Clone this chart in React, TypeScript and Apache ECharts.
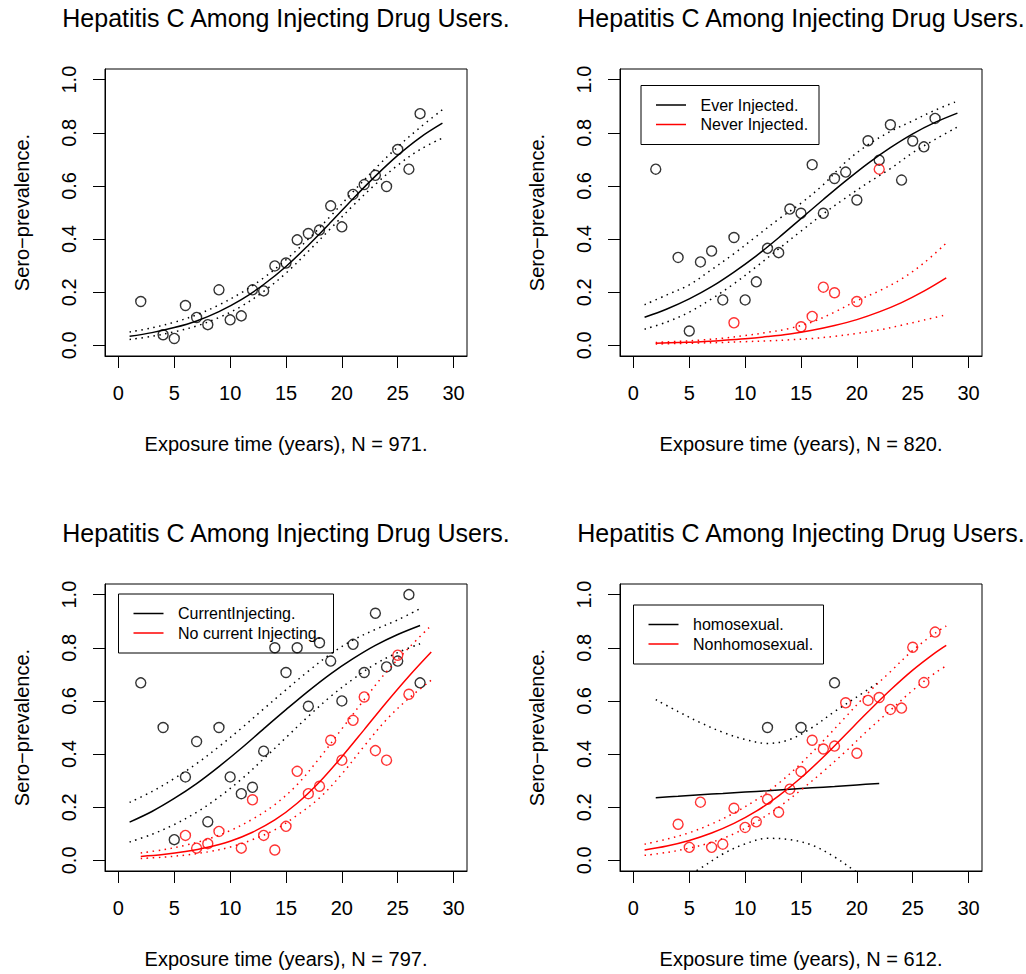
import { useEffect, useRef } from "react";
import * as echarts from "echarts";

// ---------- tick labels ----------
const xTicks = [0, 5, 10, 15, 20, 25, 30];
const yTicks = [0, 0.2, 0.4, 0.6, 0.8, 1.0];

// ---------- titles / labels ----------
const mainTitle = "Hepatitis C Among Injecting Drug Users.";
const yTitle = "Sero\u2212prevalence.";
const sampleSizes = ["971", "820", "797", "612"];

// ---------- x grids for fitted curves ----------
const oddYears = [1, 3, 5, 7, 9, 11, 13, 15, 17, 19, 21, 23, 25, 27, 29];
const oddYears27 = [1, 3, 5, 7, 9, 11, 13, 15, 17, 19, 21, 23, 25, 27];
const oddYears28 = [1, 3, 5, 7, 9, 11, 13, 15, 17, 19, 21, 23, 25, 27, 28];
const evenYears28 = [2, 4, 6, 8, 10, 12, 14, 16, 18, 20, 22, 24, 26, 28];
const evenYears22 = [2, 4, 6, 8, 10, 12, 14, 16, 18, 20, 22];

// ---------- panel 1 : all ----------
const p1X = [2, 4, 5, 6, 7, 8, 9, 10, 11, 12, 13, 14, 15, 16, 17, 18, 19, 20, 21, 22, 23, 24, 25, 26, 27];
const p1Y = [0.165, 0.04, 0.026, 0.15, 0.105, 0.078, 0.209, 0.096, 0.111, 0.209, 0.205, 0.299, 0.31, 0.397, 0.421, 0.434, 0.525, 0.446, 0.568, 0.605, 0.64, 0.598, 0.737, 0.663, 0.872];
const p1Fit = [0.034, 0.048, 0.067, 0.092, 0.127, 0.172, 0.229, 0.297, 0.377, 0.463, 0.552, 0.637, 0.715, 0.782, 0.836];
const p1Upper = [0.05, 0.066, 0.087, 0.115, 0.152, 0.198, 0.254, 0.322, 0.4, 0.487, 0.578, 0.666, 0.747, 0.82, 0.887];
const p1Lower = [0.022, 0.034, 0.051, 0.073, 0.105, 0.147, 0.203, 0.272, 0.354, 0.44, 0.526, 0.606, 0.678, 0.737, 0.78];

// ---------- panel 2 : ever / never injected ----------
const p2EverX = [2, 4, 5, 6, 7, 8, 9, 10, 11, 12, 13, 14, 15, 16, 17, 18, 19, 20, 21, 22, 23, 24, 25, 26, 27];
const p2EverY = [0.663, 0.331, 0.054, 0.314, 0.355, 0.171, 0.406, 0.171, 0.239, 0.365, 0.349, 0.513, 0.497, 0.68, 0.497, 0.628, 0.652, 0.547, 0.77, 0.697, 0.83, 0.622, 0.769, 0.747, 0.854];
const p2NeverX = [9, 15, 16, 17, 18, 20, 22];
const p2NeverY = [0.085, 0.07, 0.109, 0.219, 0.198, 0.165, 0.663];
const p2EverFit = [0.106, 0.137, 0.175, 0.221, 0.276, 0.337, 0.405, 0.477, 0.549, 0.619, 0.685, 0.744, 0.796, 0.839, 0.874];
const p2EverUpper = [0.153, 0.19, 0.228, 0.285, 0.345, 0.41, 0.475, 0.535, 0.605, 0.69, 0.755, 0.805, 0.845, 0.885, 0.919];
const p2EverLower = [0.061, 0.088, 0.125, 0.175, 0.232, 0.296, 0.363, 0.43, 0.495, 0.555, 0.612, 0.665, 0.725, 0.775, 0.822];
const p2NeverFit = [0.008, 0.011, 0.014, 0.019, 0.025, 0.033, 0.043, 0.057, 0.075, 0.097, 0.126, 0.161, 0.204, 0.254];
const p2NeverUpper = [0.011, 0.015, 0.02, 0.027, 0.037, 0.049, 0.064, 0.088, 0.125, 0.168, 0.205, 0.25, 0.31, 0.385];
const p2NeverLower = [0.005, 0.007, 0.009, 0.011, 0.014, 0.017, 0.021, 0.026, 0.034, 0.045, 0.058, 0.076, 0.095, 0.115];

// ---------- panel 3 : current / no current injecting ----------
const p3CurX = [2, 4, 5, 6, 7, 8, 9, 10, 11, 12, 13, 14, 15, 16, 17, 18, 19, 20, 21, 22, 23, 24, 25, 26, 27];
const p3CurY = [0.668, 0.5, 0.078, 0.314, 0.447, 0.145, 0.5, 0.314, 0.251, 0.275, 0.411, 0.8, 0.707, 0.8, 0.58, 0.819, 0.75, 0.6, 0.813, 0.707, 0.93, 0.728, 0.75, 1.0, 0.668];
const p3NoX = [6, 7, 8, 9, 11, 12, 13, 14, 15, 16, 17, 18, 19, 20, 21, 22, 23, 24, 25, 26];
const p3NoY = [0.094, 0.046, 0.063, 0.109, 0.046, 0.228, 0.094, 0.039, 0.128, 0.335, 0.251, 0.279, 0.452, 0.377, 0.527, 0.615, 0.413, 0.377, 0.772, 0.625];
const p3CurFit = [0.144, 0.184, 0.233, 0.289, 0.353, 0.422, 0.495, 0.567, 0.637, 0.702, 0.759, 0.809, 0.85, 0.884];
const p3CurUpper = [0.218, 0.259, 0.308, 0.364, 0.428, 0.497, 0.57, 0.642, 0.712, 0.777, 0.829, 0.869, 0.905, 0.947];
const p3CurLower = [0.069, 0.098, 0.135, 0.181, 0.238, 0.305, 0.382, 0.462, 0.542, 0.617, 0.682, 0.739, 0.782, 0.815];
const p3NoFit = [0.015, 0.022, 0.033, 0.049, 0.072, 0.106, 0.152, 0.215, 0.295, 0.39, 0.492, 0.595, 0.693, 0.784];
const p3NoUpper = [0.028, 0.04, 0.057, 0.08, 0.112, 0.155, 0.21, 0.285, 0.385, 0.495, 0.605, 0.71, 0.8, 0.884];
const p3NoLower = [0.007, 0.012, 0.02, 0.032, 0.05, 0.078, 0.115, 0.17, 0.235, 0.325, 0.43, 0.53, 0.61, 0.678];

// ---------- panel 4 : homosexual / nonhomosexual ----------
const p4HomoX = [12, 15, 18];
const p4HomoY = [0.5, 0.5, 0.668];
const p4NonX = [4, 5, 6, 7, 8, 9, 10, 11, 12, 13, 14, 15, 16, 17, 18, 19, 20, 21, 22, 23, 24, 25, 26, 27];
const p4NonY = [0.136, 0.049, 0.219, 0.049, 0.061, 0.196, 0.124, 0.145, 0.23, 0.181, 0.268, 0.334, 0.452, 0.419, 0.43, 0.593, 0.403, 0.602, 0.613, 0.568, 0.573, 0.802, 0.669, 0.859];
const p4HomoFit = [0.236, 0.241, 0.247, 0.252, 0.257, 0.262, 0.268, 0.273, 0.278, 0.284, 0.289];
const p4HomoUpper = [0.605, 0.56, 0.518, 0.482, 0.455, 0.44, 0.455, 0.5, 0.56, 0.615, 0.672];
const p4HomoLower = [-0.133, -0.078, -0.03, 0.024, 0.062, 0.083, 0.078, 0.057, 0.013, -0.045, -0.1];
const p4NonFit = [0.039, 0.054, 0.075, 0.103, 0.139, 0.185, 0.243, 0.311, 0.389, 0.474, 0.559, 0.641, 0.716, 0.781, 0.809];
const p4NonUpper = [0.061, 0.08, 0.104, 0.137, 0.178, 0.228, 0.29, 0.365, 0.45, 0.54, 0.63, 0.71, 0.79, 0.855, 0.882];
const p4NonLower = [0.019, 0.03, 0.046, 0.068, 0.1, 0.145, 0.2, 0.265, 0.335, 0.41, 0.49, 0.565, 0.64, 0.705, 0.732];

// ---------- legend labels ----------
const legend2 = ["Ever Injected.", "Never Injected."];
const legend3 = ["CurrentInjecting.", "No current Injecting."];
const legend4 = ["homosexual.", "Nonhomosexual."];

const BLACK = "#000000";
const RED = "#ff0000";
const FONT = '"Liberation Sans", Arial, Helvetica, sans-serif';

const zip = (xs: number[], ys: number[]) => xs.map((x, i) => [x, ys[i]]);

type Group = { px: number[]; py: number[]; fx: number[]; fit: number[]; up: number[]; lo: number[]; color: string; name: string };

const panels: { dx: number; dy: number; groups: Group[]; legend: string[] | null; lg: { x: number; y: number; w: number; h: number } | null }[] = [
  {
    dx: 0, dy: 0, legend: null, lg: null,
    groups: [{ px: p1X, py: p1Y, fx: oddYears, fit: p1Fit, up: p1Upper, lo: p1Lower, color: BLACK, name: "All" }],
  },
  {
    dx: 515, dy: 0, legend: legend2, lg: { x: 641, y: 85.5, w: 178, h: 59 },
    groups: [
      { px: p2EverX, py: p2EverY, fx: oddYears, fit: p2EverFit, up: p2EverUpper, lo: p2EverLower, color: BLACK, name: legend2[0] },
      { px: p2NeverX, py: p2NeverY, fx: evenYears28, fit: p2NeverFit, up: p2NeverUpper, lo: p2NeverLower, color: RED, name: legend2[1] },
    ],
  },
  {
    dx: 0, dy: 515, legend: legend3, lg: { x: 118.5, y: 594, w: 215, h: 59 },
    groups: [
      { px: p3CurX, py: p3CurY, fx: oddYears27, fit: p3CurFit, up: p3CurUpper, lo: p3CurLower, color: BLACK, name: legend3[0] },
      { px: p3NoX, py: p3NoY, fx: evenYears28, fit: p3NoFit, up: p3NoUpper, lo: p3NoLower, color: RED, name: legend3[1] },
    ],
  },
  {
    dx: 515, dy: 515, legend: legend4, lg: { x: 633.5, y: 605, w: 190, h: 59 },
    groups: [
      { px: p4HomoX, py: p4HomoY, fx: evenYears22, fit: p4HomoFit, up: p4HomoUpper, lo: p4HomoLower, color: BLACK, name: legend4[0] },
      { px: p4NonX, py: p4NonY, fx: oddYears28, fit: p4NonFit, up: p4NonUpper, lo: p4NonLower, color: RED, name: legend4[1] },
    ],
  },
];

const BOX_LEFT = 105;
const BOX_TOP = 69;
const BOX_W = 362;
const BOX_H = 287;

function buildOption() {
  const grid: any[] = [];
  const xAxis: any[] = [];
  const yAxis: any[] = [];
  const series: any[] = [];
  const graphic: any[] = [];

  panels.forEach((p, i) => {
    grid.push({
      left: BOX_LEFT + p.dx,
      top: BOX_TOP + p.dy,
      width: BOX_W,
      height: BOX_H,
      show: true,
      borderColor: BLACK,
      borderWidth: 1,
      backgroundColor: "transparent",
      containLabel: false,
      outerBoundsMode: "none",
    });
    xAxis.push({
      gridIndex: i,
      type: "value",
      min: -1.2,
      max: 31.2,
      axisLine: { show: true, onZero: false, lineStyle: { color: BLACK, width: 1 } },
      axisTick: { show: true, length: 12, customValues: xTicks, lineStyle: { color: BLACK, width: 1 } },
      axisLabel: { customValues: xTicks, margin: 27, fontSize: 20, color: BLACK, fontFamily: FONT },
      splitLine: { show: false },
      name: `Exposure time (years), N = ${sampleSizes[i]}.`,
      nameLocation: "middle",
      nameGap: 78,
      nameTextStyle: { fontSize: 20, color: BLACK, fontFamily: FONT },
    });
    yAxis.push({
      gridIndex: i,
      type: "value",
      min: -0.04,
      max: 1.04,
      axisLine: { show: true, onZero: false, lineStyle: { color: BLACK, width: 1 } },
      axisTick: { show: true, length: 12, customValues: yTicks, lineStyle: { color: BLACK, width: 1 } },
      axisLabel: {
        customValues: yTicks,
        rotate: 90,
        margin: 26,
        fontSize: 20,
        color: BLACK,
        fontFamily: FONT,
        formatter: (v: number) => v.toFixed(1),
      },
      splitLine: { show: false },
      name: yTitle,
      nameLocation: "middle",
      nameGap: 73,
      nameTextStyle: { fontSize: 20, color: BLACK, fontFamily: FONT },
    });

    p.groups.forEach((g) => {
      const common = { xAxisIndex: i, yAxisIndex: i, silent: true, showSymbol: false, smooth: 0.35, clip: true };
      series.push({ ...common, type: "line", name: g.name + " upper", data: zip(g.fx, g.up), lineStyle: { color: g.color, width: 1.5, type: [1.5, 4.5] } });
      series.push({ ...common, type: "line", name: g.name + " lower", data: zip(g.fx, g.lo), lineStyle: { color: g.color, width: 1.5, type: [1.5, 4.5] } });
      series.push({ ...common, type: "line", name: g.name + " fit", data: zip(g.fx, g.fit), lineStyle: { color: g.color, width: 1.5 } });
      series.push({
        type: "scatter",
        xAxisIndex: i,
        yAxisIndex: i,
        silent: true,
        name: g.name,
        data: zip(g.px, g.py),
        symbol: "circle",
        symbolSize: 10,
        itemStyle: { color: "rgba(0,0,0,0)", borderColor: g.color, borderWidth: 1.4 },
      });
    });

    graphic.push({
      type: "text",
      x: BOX_LEFT + BOX_W / 2 + p.dx,
      y: 18 + p.dy,
      style: { text: mainTitle, fontSize: 25, fontFamily: FONT, fill: BLACK, align: "center", verticalAlign: "middle" },
    });

    if (p.legend && p.lg) {
      const lg = p.lg;
      graphic.push({
        type: "rect",
        shape: { x: lg.x, y: lg.y, width: lg.w, height: lg.h },
        style: { fill: "none", stroke: BLACK, lineWidth: 1 },
      });
      p.legend.forEach((label, k) => {
        const yy = lg.y + 19.5 + k * 19.5;
        const col = k === 0 ? BLACK : RED;
        graphic.push({
          type: "line",
          shape: { x1: lg.x + 15, y1: yy, x2: lg.x + 45, y2: yy },
          style: { stroke: col, lineWidth: 1.5 },
        });
        graphic.push({
          type: "text",
          x: lg.x + 59.5,
          y: yy,
          style: { text: label, fontSize: 16, fontFamily: FONT, fill: BLACK, align: "left", verticalAlign: "middle" },
        });
      });
    }
  });

  return {
    animation: false,
    backgroundColor: "#ffffff",
    grid,
    xAxis,
    yAxis,
    series,
    graphic,
  };
}

export default function App() {
  const ref = useRef<HTMLDivElement>(null);
  useEffect(() => {
    if (!ref.current) return;
    const chart = echarts.init(ref.current, undefined, { renderer: "svg" });
    chart.setOption(buildOption() as any);
    return () => chart.dispose();
  }, []);
  return (
    <div
      ref={ref}
      style={{ position: "absolute", left: 0, top: 0, width: 1026, height: 974, background: "#fff" }}
    />
  );
}
